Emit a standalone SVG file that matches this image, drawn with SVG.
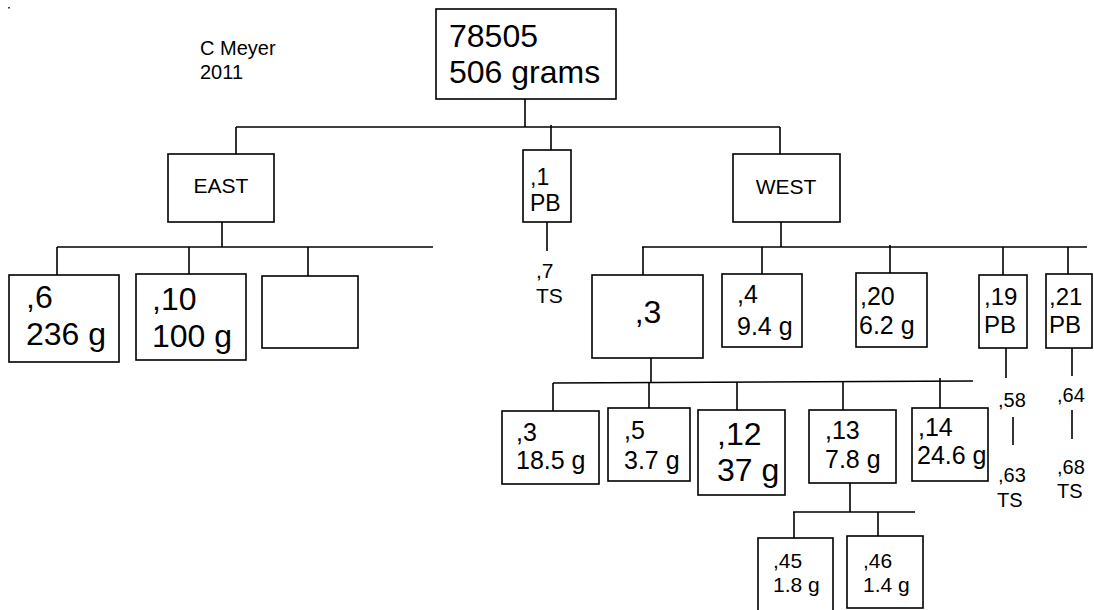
<svg xmlns="http://www.w3.org/2000/svg" width="1094" height="610" viewBox="0 0 1094 610">
<style>
rect.b{fill:#fff;stroke:#000;stroke-width:1.6}
#connectors line{stroke:#000;stroke-width:1.6}
text{font-family:"Liberation Sans",Arial,sans-serif;fill:#000}
.xl{font-size:32px}
.l{font-size:25px}
.m{font-size:24px}
.m2{font-size:23px}
.s{font-size:21px}
.xs{font-size:20px}
</style>
<rect width="1094" height="610" fill="#fff"/>
<rect x="8" y="7" width="2" height="1.5" fill="#444"/>
<g id="author"><text class="xs" x="200" y="55">C Meyer</text><text class="xs" x="200" y="79">2011</text></g>
<g id="connectors">
<line x1="525" y1="99" x2="525" y2="127"/>
<line x1="236" y1="127" x2="780" y2="127"/>
<line x1="236" y1="127" x2="236" y2="154"/>
<line x1="551" y1="125" x2="551" y2="150"/>
<line x1="780" y1="127" x2="780" y2="154"/>
<line x1="222" y1="222" x2="222" y2="247"/>
<line x1="57" y1="247" x2="433" y2="247"/>
<line x1="57" y1="247" x2="57" y2="275"/>
<line x1="189" y1="247" x2="189" y2="274"/>
<line x1="308" y1="247" x2="308" y2="276"/>
<line x1="547" y1="222" x2="547" y2="251"/>
<line x1="781" y1="222" x2="781" y2="247"/>
<line x1="642" y1="247" x2="1087" y2="247"/>
<line x1="643" y1="247" x2="643" y2="275"/>
<line x1="762" y1="247" x2="762" y2="274"/>
<line x1="890" y1="245" x2="890" y2="273"/>
<line x1="1003" y1="247" x2="1003" y2="275"/>
<line x1="1068" y1="247" x2="1068" y2="274"/>
<line x1="1006" y1="348" x2="1006" y2="378"/>
<line x1="1013" y1="417" x2="1013" y2="445"/>
<line x1="1072" y1="348" x2="1072" y2="376"/>
<line x1="1072" y1="410" x2="1072" y2="439"/>
<line x1="651" y1="358" x2="651" y2="383"/>
<line x1="553" y1="383" x2="973" y2="381"/>
<line x1="553" y1="383" x2="553" y2="411"/>
<line x1="649" y1="383" x2="649" y2="408"/>
<line x1="737" y1="382" x2="737" y2="410"/>
<line x1="843" y1="381" x2="843" y2="410"/>
<line x1="940" y1="378" x2="940" y2="408"/>
<line x1="850" y1="483" x2="850" y2="512"/>
<line x1="793" y1="512" x2="915" y2="512"/>
<line x1="794" y1="512" x2="794" y2="538"/>
<line x1="878" y1="512" x2="878" y2="537"/>
</g>
<g id="root"><rect class="b" x="436" y="9" width="180" height="90"/><text class="xl" x="449" y="47">78505</text><text class="xl" x="449" y="83">506 grams</text></g>
<g id="east"><rect class="b" x="168" y="154" width="106" height="68"/><text class="s" x="221" y="193" text-anchor="middle">EAST</text></g>
<g id="pb1"><rect class="b" x="523" y="150" width="48" height="72"/><text class="m2" x="530" y="185">,1</text><text class="m2" x="530" y="211">PB</text></g>
<g id="ts7"><text class="s" x="536" y="278">,7</text><text class="s" x="536" y="303">TS</text></g>
<g id="west"><rect class="b" x="733" y="154" width="107" height="68"/><text class="s" x="786" y="194" text-anchor="middle">WEST</text></g>
<g id="n6"><rect class="b" x="9" y="275" width="110" height="87"/><text class="xl" x="26" y="308">,6</text><text class="xl" x="26" y="345">236 g</text></g>
<g id="n10"><rect class="b" x="136" y="274" width="110" height="86"/><text class="xl" x="152" y="310">,10</text><text class="xl" x="152" y="347">100 g</text></g>
<g id="nempty"><rect class="b" x="262" y="276" width="96" height="72"/></g>
<g id="n3"><rect class="b" x="592" y="275" width="111" height="83"/><text class="xl" x="648" y="323" text-anchor="middle">,3</text></g>
<g id="n4"><rect class="b" x="722" y="274" width="80" height="73"/><text class="l" x="737" y="303">,4</text><text class="l" x="737" y="335">9.4 g</text></g>
<g id="n20"><rect class="b" x="856" y="273" width="71" height="74"/><text class="l" x="860" y="305">,20</text><text class="l" x="859" y="334">6.2 g</text></g>
<g id="n19"><rect class="b" x="979" y="275" width="48" height="73"/><text class="m" x="984" y="305">,19</text><text class="m" x="984" y="333">PB</text></g>
<g id="n21"><rect class="b" x="1046" y="274" width="46" height="74"/><text class="m" x="1049" y="305">,21</text><text class="m" x="1049" y="333">PB</text></g>
<g id="n58"><text class="xs" x="998" y="407">,58</text></g>
<g id="n63"><text class="xs" x="998" y="482">,63</text><text class="xs" x="997" y="507">TS</text></g>
<g id="n64"><text class="xs" x="1057" y="402">,64</text></g>
<g id="n68"><text class="xs" x="1057" y="474">,68</text><text class="xs" x="1057" y="498">TS</text></g>
<g id="n3b"><rect class="b" x="502" y="411" width="97" height="73"/><text class="l" x="516" y="441">,3</text><text class="l" x="516" y="469">18.5 g</text></g>
<g id="n5"><rect class="b" x="608" y="408" width="82" height="73"/><text class="l" x="624" y="439">,5</text><text class="l" x="624" y="469">3.7 g</text></g>
<g id="n12"><rect class="b" x="698" y="410" width="87" height="85"/><text class="xl" x="717" y="445">,12</text><text class="xl" x="717" y="481">37 g</text></g>
<g id="n13"><rect class="b" x="809" y="410" width="87" height="73"/><text class="l" x="825" y="439">,13</text><text class="l" x="825" y="468">7.8 g</text></g>
<g id="n14"><rect class="b" x="912" y="408" width="76" height="73"/><text class="l" x="918" y="436">,14</text><text class="l" x="917" y="464">24.6 g</text></g>
<g id="n45"><rect class="b" x="758" y="538" width="75" height="74"/><text class="s" x="773" y="568">,45</text><text class="s" x="773" y="592">1.8 g</text></g>
<g id="n46"><rect class="b" x="847" y="536" width="76" height="72"/><text class="s" x="863" y="568">,46</text><text class="s" x="863" y="592">1.4 g</text></g>
</svg>
